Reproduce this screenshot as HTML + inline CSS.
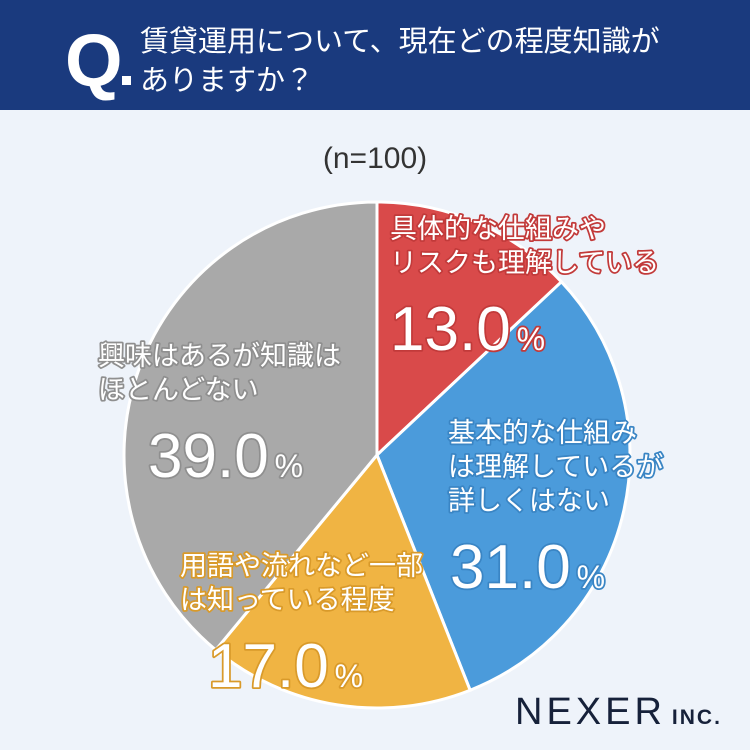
<!DOCTYPE html>
<html><head><meta charset="utf-8"><style>
body{margin:0;width:750px;height:750px;overflow:hidden;background:#eef3fa;font-family:"Liberation Sans","Noto Sans CJK JP",sans-serif}
svg{display:block}
</style></head><body>
<svg width="750" height="750" viewBox="0 0 750 750">
<rect x="0" y="0" width="750" height="750" fill="#eef3fa"/>
<rect x="0" y="0" width="750" height="110" fill="#1a3a7e"/>
<text x="65" y="86" fill="#fff" font-size="74" font-weight="bold" font-family="Liberation Sans,sans-serif">Q</text>
<rect x="122" y="76" width="9" height="9" fill="#fff"/>
<text x="140" y="51" fill="#fff" font-size="29">賃貸運用について、現在どの程度知識が</text>
<text x="140" y="90" fill="#fff" font-size="29">ありますか？</text>
<text x="375" y="168" fill="#333" font-size="30" text-anchor="middle">(n=100)</text>
<g id="slices"></g>
<g id="labels" fill="#fff" stroke-width="3.5" paint-order="stroke" stroke-linejoin="round"></g>
<text x="515" y="724" fill="#16213a" font-size="38" letter-spacing="4" font-family="Liberation Sans,sans-serif">NEXER<tspan font-size="21" font-weight="bold" dx="6" letter-spacing="2">INC.</tspan></text>
</svg>
<script>
const categories=["具体的な仕組みやリスクも理解している","基本的な仕組みは理解しているが詳しくはない","用語や流れなど一部は知っている程度","興味はあるが知識はほとんどない"];
const values=[13.0,31.0,17.0,39.0];
const valueLabels=["13.0","31.0","17.0","39.0"];
const colors=["#d94a4a","#4b9bdb","#f0b443","#a9a9a9"];
const strokes=["#c23a3a","#3a85c4","#d99a2a","#8f8f8f"];
const labelLines=[["具体的な仕組みや","リスクも理解している"],["基本的な仕組み","は理解しているが","詳しくはない"],["用語や流れなど一部","は知っている程度"],["興味はあるが知識は","ほとんどない"]];
const labelPos=[[390,238],[448,442],[180,575],[98,365]];
const cx=377,cy=455,r=253;
const NS="http://www.w3.org/2000/svg";
const total=values.reduce((a,b)=>a+b,0);
function pt(a){return [cx+r*Math.sin(a),cy-r*Math.cos(a)];}
let ang=0;
const sg=document.getElementById('slices'),lg=document.getElementById('labels');
values.forEach((v,i)=>{
  const a0=ang,a1=ang+v/total*2*Math.PI;ang=a1;
  const p0=pt(a0),p1=pt(a1);
  const p=document.createElementNS(NS,'path');
  p.setAttribute('d',`M${cx},${cy}L${p0[0]},${p0[1]}A${r},${r} 0 ${a1-a0>Math.PI?1:0} 1 ${p1[0]},${p1[1]}Z`);
  p.setAttribute('fill',colors[i]);p.setAttribute('stroke','#fff');p.setAttribute('stroke-width','3');
  
  
  sg.appendChild(p);
  const [lx,ly]=labelPos[i];
  labelLines[i].forEach((ln,j)=>{
    const t=document.createElementNS(NS,'text');
    t.setAttribute('x',lx);t.setAttribute('y',ly+j*34);t.setAttribute('font-size','27');
    t.setAttribute('stroke',strokes[i]);t.textContent=ln;
    
    
    lg.appendChild(t);
  });
  const t=document.createElementNS(NS,'text');
  t.setAttribute('x',lx+(i===0?0:i===1?2:i===2?28:50));
  t.setAttribute('y',ly+(labelLines[i].length)*34+44);
  t.setAttribute('font-size','62');t.setAttribute('stroke',strokes[i]);
  t.innerHTML=valueLabels[i]+'<tspan font-size="32" dx="6">%</tspan>';
  
  
  lg.appendChild(t);
});
</script>
</body></html>
